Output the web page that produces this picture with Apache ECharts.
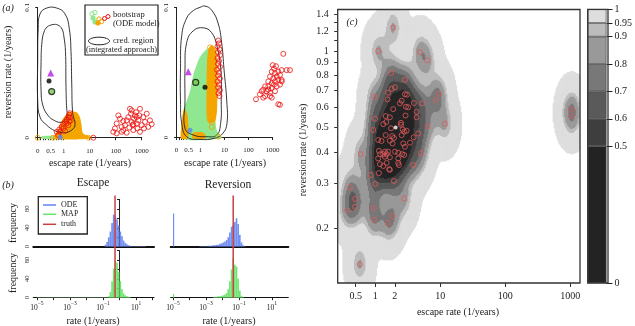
<!DOCTYPE html>
<html>
<head>
<meta charset="utf-8">
<title>escape / reversion rates</title>
<script src="https://cdn.jsdelivr.net/npm/echarts@6.0.0/dist/echarts.min.js"></script>
<style>
html, body { margin: 0; padding: 0; background: #fff; }
#chart { width: 635px; height: 326px; }
</style>
</head>
<body>
<div id="chart"></div>
<script>
// ---------- panel (a) : bootstrap fits, [escape rate, reversion rate] ----------
const contourOuterL = [[0.02,0.0836],[0.09,0.095],[0.35,0.0995],[0.73,0.0995],[1.12,0.095],[1.64,0.0836],[1.91,0.0661],[2.04,0.0412],[2.22,0.0186],[2.72,0.0096],[1.74,0.005],[0.985,0.0038],[0.665,0.0053],[0.35,0.0096],[0.09,0.0158],[0.0,0.0284],[0.0,0.0585]];
const contourInnerL = [[0.36,0.0849],[0.59,0.0868],[0.78,0.0864],[0.935,0.0834],[1.02,0.0774],[1.17,0.0661],[1.22,0.0412],[1.28,0.0246],[1.34,0.017],[1.12,0.0133],[0.86,0.0118],[0.63,0.0133],[0.40,0.017],[0.20,0.0246],[0.13,0.036],[0.13,0.0586],[0.165,0.0736],[0.24,0.081]];
const greenL = [[0.15,0.0012],[0.92,0.0012],[0.92,-0.0009],[0.15,-0.0009]];
const orangeL = [[0.59,-0.0008],[0.78,0.0058],[0.935,0.0133],[1.34,0.0186],[2.09,0.0201],[3.24,0.0194],[4.23,0.0156],[4.92,0.0088],[5.5,0.0035],[10.3,0.0008],[10.3,-0.0008]];
const orangeRingsL = [[0.0,0],[0.59,0],[8.9,0]];
const redL = [[0.73,0.0045],[0.83,0.0063],[0.92,0.0083],[0.985,0.0103],[1.12,0.0121],[1.30,0.0139],[1.51,0.0158],[1.64,0.0176],[1.74,0.0188],[1.30,0.0109],[0.985,0.0071],[0.86,0.0045],[1.86,0.0133],[1.51,0.0096],[1.12,0.0053],[0.79,0.002],[1.74,0.0155],[1.64,0.0125],[13.8,0],
  [81,0.0045],[94,0.0071],[109,0.0109],[126,0.0171],[146,0.0146],[170,0.0083],[196,0.0058],[228,0.0096],[264,0.0133],[305,0.0158],[354,0.0222],[386,0.0184],[413,0.0121],[450,0.0096],[476,0.0058],[505,0.0146],[553,0.0171],[605,0.0196],[640,0.0109],[680,0.0071],[740,0.0133],[810,0.0171],[860,0.0222],[1000,0.0096],[1150,0.0158],[1340,0.0121],[1560,0.0184],[1790,0.0083],[2080,0.0133],[2420,0.0103],[109,0.0033],[170,0.0045],[333,0.0078],[476,0.0103],[860,0.0045],[264,0.0038],[196,0.0128],[413,0.0209],[640,0.0158],[1220,0.0071]];
const markersL = { triangle: [0.5,0.0497], map: [0.435,0.0435], ring: [0.538,0.0354], blue: [0.87,0.0003] };

const contourOuterR = [[0.425,0.0918],[0.7,0.0975],[0.98,0.1],[1.55,0.101],[2.93,0.0978],[5.37,0.088],[7.6,0.073],[9.5,0.0528],[12.4,0.0281],[12.7,0.0109],[8.7,0.0034],[4.0,-0.0005],[0.98,-0.0015],[0.425,0.0006],[0.217,0.0109],[0.167,0.0281],[0.167,0.0528],[0.217,0.0783]];
const contourInnerR = [[1.31,0.0843],[2.93,0.0805],[4.73,0.0708],[7.0,0.0528],[7.3,0.0281],[6.9,0.0109],[4.73,0.0019],[1.82,0.0006],[0.7,0.0019],[0.354,0.0071],[0.354,0.0281],[0.354,0.0528],[0.425,0.073],[0.7,0.082]];
const greenR = [[0.283,-0.0007],[0.283,0.0206],[0.425,0.0281],[0.5625,0.0356],[0.7,0.0483],[0.84,0.0558],[0.98,0.0618],[1.82,0.068],[2.49,0.0685],[3.02,0.0655],[3.65,0.0431],[4.02,0.0206],[4.73,0.0056],[7.6,0.0004],[7.6,-0.0007]];
const orangeR = [[1.87,0.0131],[1.78,0.0356],[1.87,0.0581],[2.15,0.0678],[2.74,0.0708],[3.65,0.07],[4.64,0.0655],[5.11,0.0431],[4.87,0.0206],[4.02,0.0124],[2.49,0.0109]];
const orangeR2 = [[0.1875,-0.0007],[0.208,0.0094],[0.27,0.0191],[0.354,0.0221],[0.458,0.0169],[0.5,0.0071],[0.479,-0.0007]];
const orangeR3 = [[0.68,-0.0007],[0.68,0.0035],[1.2,0.004],[1.6,0.002],[1.6,-0.0007]];
const orangeRingsR = [[2.49,0.0693],[2.93,0.0118],[2.93,0.0081],[5.5,0.0006]];
const redR = [[5.52,0.0745],[5.9,0.0723],[5.11,0.07],[6.17,0.0678],[5.36,0.0655],[6.47,0.0633],[5.11,0.061],[5.9,0.0588],[5.36,0.0566],[6.47,0.0543],[4.87,0.0521],[5.9,0.0498],[5.36,0.0476],[6.47,0.0453],[5.11,0.0431],[5.9,0.0408],[5.36,0.0386],[6.47,0.0363],[5.62,0.0341],[6.17,0.0318],
  [2820,0.0643],[1020,0.0556],[1150,0.053],[1400,0.0548],[930,0.0506],[1270,0.0493],[1740,0.0506],[2410,0.0518],[3890,0.0518],[5330,0.0518],[790,0.0468],[1080,0.0455],[1490,0.0468],[2050,0.0481],[670,0.0431],[930,0.0418],[1270,0.0431],[1740,0.0443],[2410,0.0431],[490,0.0393],[670,0.0393],[930,0.0381],[1490,0.0393],[2050,0.0406],[414,0.0368],[570,0.0356],[790,0.0343],[1270,0.0356],[300,0.0331],[490,0.0318],[790,0.0318],[205,0.0294],[414,0.0306],[1740,0.0256],[2050,0.0251],[2410,0.0443],[1150,0.0406],[670,0.0368],[355,0.0356],[930,0.0306]];
const markersR = { triangle: [0.49,0.0506], map: [1.54,0.0386], ring: [0.8,0.0423], blue: [0.5625,0.0056] };

// ---------- panel (b) : histograms over log10(rate), bin width 0.1 ----------
const BIN = 0.1;
const escOdeStart = -0.9;
const escOdeCounts = [4,10,20,32,50,68,64,58,45,32,22,13,8,5,3,2,1];
const escOdeTail = [[0.8,1.6,1.2]];
const revOdeStart = -3.4;
const revOdeCounts = [1,1,1,1,1,2,2,2,3,3,4,4,6,7,9,11,14,20,30,42,46,52,60,48,25,9,3,1];
const revOdeSpike = [[-5.0,-4.93,70]];
const escMapStart = -0.7;
const escMapCounts = [3,12,35,62,77,74,55,35,18,9,5,3,2,1];
const escMapTail = [[-5.0,-0.7,0.7]];
const revMapStart = -2.6;
const revMapCounts = [1,2,2,3,3,4,5,7,10,18,35,60,84,70,66,40,15,4,1];
const revMapSpike = [[-5.0,-4.93,8]];
const escTruthLog = -0.27;
const revTruthLog = -1.35;

// ---------- panel (c) : fitted [escape, reversion] per sample ----------
const cPoints = [[1.89,1.24],[1.11,1.00],[4.87,0.99],[6.31,0.92],[1.76,0.82],[2.86,0.77],[0.97,0.66],[2.01,0.72],[1.79,0.71],[1.58,0.685],[2.86,0.676],[3.07,0.673],[1.55,0.645],[2.55,0.637],[3.94,0.624],[5.28,0.622],[9.55,0.679],[8.5,0.641],[2.40,0.622],[2.97,0.603],[3.22,0.600],[1.89,0.590],[4.33,0.576],[1.0,0.541],[1.45,0.554],[1.68,0.548],[2.93,0.557],[4.33,0.548],[1.33,0.515],[1.48,0.525],[2.49,0.521],[2.49,0.512],[6.4,0.505],[11.8,0.517],[0.93,0.488],[1.75,0.496],[2.64,0.491],[3.04,0.485],[2.79,0.481],[1.45,0.466],[1.83,0.462],[1.94,0.454],[2.55,0.466],[3.9,0.457],[4.59,0.473],[1.11,0.446],[1.25,0.442],[1.68,0.443],[1.85,0.432],[2.70,0.432],[3.42,0.435],[2.86,0.419],[0.60,0.392],[1.14,0.404],[1.41,0.401],[1.58,0.401],[2.01,0.401],[1.19,0.392],[1.33,0.392],[1.50,0.392],[2.26,0.397],[2.60,0.392],[2.79,0.389],[5.05,0.395],[1.11,0.377],[1.41,0.383],[1.68,0.381],[2.26,0.377],[1.18,0.358],[1.33,0.352],[1.50,0.362],[2.26,0.362],[3.84,0.355],[1.64,0.342],[2.32,0.355],[0.86,0.324],[1.14,0.330],[1.68,0.340],[1.0,0.299],[1.94,0.307],[0.41,0.290],[0.49,0.261],[2.79,0.262],[0.37,0.235],[0.49,0.243],[0.95,0.240],[0.955,0.216],[1.85,0.223],[1.58,0.210],[0.58,0.144],[1050,0.589],[1050,0.554]];
const cTruth = [2.06, 0.50];
const cLevels = [0, 0.5, 0.6, 0.7, 0.8, 0.9, 0.95, 1];
const cLevelColors = ['#232323', '#3e3e3e', '#5a5a5a', '#787878', '#999999', '#bcbcbc', '#dedede'];
const cXTicks = [0.5, 1, 2, 10, 100, 1000];
const cYTicks = [0.2, 0.3, 0.4, 0.5, 0.6, 0.7, 0.8, 0.9, 1, 1.1, 1.2, 1.3, 1.4];
const cYLabels = [0.2, 0.3, 0.4, 0.5, 0.6, 0.7, 0.8, 0.9, 1, 1.2, 1.4];

const FONT = "'Liberation Serif', 'DejaVu Serif', serif";
const INK = '#222';

// escape axis in (a): linear up to 1, log above
function ux(x) { return x <= 1 ? x : 1 + Math.log10(x); }
const uxLabel = { 0: '0', 0.5: '0.5', 1: '1', 2: '10', 3: '100', 4: '1000' };

// kde of panel (c) in log space, turned into highest density levels
const C_XMIN = 0.265, C_XMAX = 1410, C_YMIN = 0.1215, C_YMAX = 1.46;
const NX = 242, NY = 274, BW_X = 0.095, BW_Y = 0.052, OUTER = 0.9993;

function kdeLevels() {
  const lx0 = Math.log10(C_XMIN), lx1 = Math.log10(C_XMAX);
  const ly0 = Math.log10(C_YMIN), ly1 = Math.log10(C_YMAX);
  const pts = cPoints.map(p => [Math.log10(p[0]), Math.log10(p[1])]);
  const dens = new Float64Array(NX * NY);
  for (let j = 0; j < NY; j++) {
    const ly = ly0 + (j + 0.5) * (ly1 - ly0) / NY;
    for (let i = 0; i < NX; i++) {
      const lx = lx0 + (i + 0.5) * (lx1 - lx0) / NX;
      let s = 0;
      for (const q of pts) {
        const dx = (lx - q[0]) / BW_X, dy = (ly - q[1]) / BW_Y;
        const r = dx * dx + dy * dy;
        if (r < 50) s += Math.exp(-0.5 * r);
      }
      dens[j * NX + i] = s;
    }
  }
  const order = Array.from(dens.keys()).sort((a, b) => dens[b] - dens[a]);
  let total = 0;
  dens.forEach(v => total += v);
  let acc = 0;
  const out = [];
  for (const k of order) {
    acc += dens[k];
    const lev = acc / total;
    if (lev <= OUTER) out.push([k % NX, Math.floor(k / NX), lev]);
  }
  return out;
}

function polySeries(g, pts, style, smooth) {
  return {
    type: 'custom', xAxisIndex: g, yAxisIndex: g, silent: true, clip: false,
    data: pts.map(p => [ux(p[0]), p[1]]),
    renderItem(params, api) {
      if (params.dataIndex !== 0) return null;
      const points = pts.map(p => api.coord([ux(p[0]), p[1]]));
      return { type: 'polygon', shape: { points: points, smooth: smooth }, style: style };
    }
  };
}

function dots(g, pts, symbol, size, style) {
  return {
    type: 'scatter', xAxisIndex: g, yAxisIndex: g, clip: false, silent: true,
    symbol: symbol, symbolSize: size, itemStyle: style,
    data: pts.map(p => [ux(p[0]), p[1]])
  };
}

function ring(color) { return { color: 'rgba(0,0,0,0)', borderColor: color, borderWidth: 1 }; }

function histSeries(g, bins, color) {
  return {
    type: 'custom', xAxisIndex: g, yAxisIndex: g, silent: true,
    data: bins,
    renderItem(params, api) {
      const p0 = api.coord([api.value(0), api.value(2)]);
      const p1 = api.coord([api.value(1), 0]);
      return { type: 'rect', shape: { x: p0[0], y: p0[1], width: p1[0] - p0[0], height: p1[1] - p0[1] }, style: { fill: color } };
    }
  };
}
function binsOf(start, counts) { return counts.map((c, i) => [start + i * BIN, start + (i + 1) * BIN, c]); }

function truthLine(g, v, top) {
  return {
    type: 'line', xAxisIndex: g, yAxisIndex: g, clip: false, silent: true, symbol: 'none',
    lineStyle: { color: '#c94040', width: 1.5 }, data: [[v, 0], [v, top]], z: 5
  };
}

const txt = (size, extra) => Object.assign({ fontFamily: FONT, fontSize: size, color: INK }, extra || {});

// ---------- axes ----------
const gridsPx = [
  { left: 337.7, top: 9.5, width: 242.3, height: 273.5 },   // 0 (c) log axes
  { left: 337.7, top: 9.5, width: 242.3, height: 273.5 },   // 1 (c) kde cells
  { left: 587.7, top: 9.3, width: 20.3, height: 273.7 },    // 2 colour key
  { left: 37.7, top: 5, width: 104, height: 132.7 },        // 3 (a) left
  { left: 176.5, top: 4, width: 96, height: 133.5 },        // 4 (a) right
  { left: 33.3, top: 199.4, width: 120.7, height: 47.3 },   // 5 (b) escape ODE
  { left: 33.3, top: 250.6, width: 120.7, height: 47.1 },   // 6 (b) escape MAP
  { left: 170.7, top: 199.4, width: 117.6, height: 47.3 },  // 7 (b) reversion ODE
  { left: 170.7, top: 250.6, width: 117.6, height: 47.1 }   // 8 (b) reversion MAP
];

const line1 = { show: true, lineStyle: { color: INK, width: 1 } };
const noSplit = { show: false };

const xAxes = [
  { gridIndex: 0, type: 'log', logBase: 10, min: C_XMIN, max: C_XMAX, axisLine: { show: false }, splitLine: noSplit,
    axisTick: { show: true, customValues: cXTicks, length: 4, lineStyle: { color: '#333' } },
    axisLabel: Object.assign(txt(10), { customValues: cXTicks, margin: 8, formatter: v => String(+v.toPrecision(3)) }) },
  { gridIndex: 1, type: 'category', show: false, data: Array.from({ length: NX }, (_, i) => i) },
  { gridIndex: 2, type: 'category', show: false, data: ['key'] },
  { gridIndex: 3, type: 'value', min: 0, max: 4, offset: 6.5, axisLine: line1, splitLine: noSplit,
    axisTick: { show: true, length: 2.5, customValues: [0,0.1,0.2,0.3,0.4,0.5,0.6,0.7,0.8,0.9,1,2,3,4], lineStyle: { color: INK } },
    axisLabel: Object.assign(txt(7), { customValues: [0,0.5,1,2,3,4], margin: 3, formatter: v => uxLabel[v] }) },
  { gridIndex: 4, type: 'value', min: 0, max: 4, offset: 6.5, axisLine: line1, splitLine: noSplit,
    axisTick: { show: true, length: 2.5, customValues: [0,0.1,0.2,0.3,0.4,0.5,0.6,0.7,0.8,0.9,1,2,3,4], lineStyle: { color: INK } },
    axisLabel: Object.assign(txt(7), { customValues: [0,0.5,1,2,3,4], margin: 3, formatter: v => uxLabel[v] }) }
];
const histX = (g, min, max, labels) => ({
  gridIndex: g, type: 'value', min: min, max: max, splitLine: noSplit,
  axisLine: { show: true, lineStyle: { color: '#111', width: labels ? 1 : 2 } },
  axisTick: { show: labels, length: 2.5, customValues: [-5,-4,-3,-2,-1,0,1,2], lineStyle: { color: INK } },
  axisLabel: labels ? {
    customValues: [-5,-3,-1,1], margin: 3,
    formatter: v => '{b|10}{s|' + (v < 0 ? '\u2212' : '') + Math.abs(v) + '}',
    rich: { b: txt(7.5, { verticalAlign: 'bottom', lineHeight: 11 }), s: txt(5.5, { verticalAlign: 'top', lineHeight: 11 }) }
  } : { show: false }
});
xAxes.push(histX(5, -5.22, 2.09, false), histX(6, -5.22, 2.09, true), histX(7, -5.14, 1.99, false), histX(8, -5.14, 1.99, true));

const yAxes = [
  { gridIndex: 0, type: 'log', logBase: 10, min: C_YMIN, max: C_YMAX, axisLine: { show: false }, splitLine: noSplit,
    axisTick: { show: true, customValues: cYTicks, length: 3.5, lineStyle: { color: '#333' } },
    axisLabel: Object.assign(txt(10), { customValues: cYLabels, margin: 9, formatter: v => String(+v.toPrecision(3)) }) },
  { gridIndex: 1, type: 'category', show: false, data: Array.from({ length: NY }, (_, i) => i) },
  { gridIndex: 2, type: 'value', min: 0, max: 1, position: 'right', splitLine: noSplit, axisLine: { show: false },
    axisTick: { show: true, customValues: cLevels, length: 6, inside: false, lineStyle: { color: '#222', width: 1 } },
    axisLabel: Object.assign(txt(10), { customValues: cLevels, margin: 8, formatter: v => String(v) }) },
  { gridIndex: 3, type: 'value', min: 0, max: 0.1, offset: 4.4, axisLine: line1, splitLine: noSplit,
    axisTick: { show: true, length: 2.5, customValues: [0, 0.1], lineStyle: { color: INK } },
    axisLabel: Object.assign(txt(7), { customValues: [0, 0.1], rotate: 90, margin: 3, formatter: v => String(v) }) },
  { gridIndex: 4, type: 'value', min: 0, max: 0.1, offset: 3.8, axisLine: line1, splitLine: noSplit,
    axisTick: { show: true, length: 2.5, customValues: [0, 0.1], lineStyle: { color: INK } },
    axisLabel: Object.assign(txt(7), { customValues: [0, 0.1], rotate: 90, margin: 3, formatter: v => String(v) }) }
];
const histY = (g, show) => ({
  gridIndex: g, type: 'value', min: 0, max: 100, splitLine: noSplit, show: show,
  axisLine: line1,
  axisTick: { show: true, length: 2.5, customValues: [0, 20, 40, 60, 80, 100], lineStyle: { color: INK } },
  axisLabel: Object.assign(txt(6.5), { customValues: [0, 40, 80], rotate: 90, margin: 3 })
});
yAxes.push(histY(5, true), histY(6, true), histY(7, false), histY(8, false));

// ---------- series ----------
const series = [];

// (c) density levels + points
series.push({
  type: 'heatmap', xAxisIndex: 1, yAxisIndex: 1, data: kdeLevels(), silent: true,
  progressive: 0, itemStyle: { borderWidth: 0 }
});
series.push({
  type: 'scatter', xAxisIndex: 0, yAxisIndex: 0, data: cPoints, symbol: 'circle', symbolSize: 5, silent: true,
  itemStyle: { color: 'rgba(0,0,0,0)', borderColor: '#e0595b', borderWidth: 1 }, z: 4
});
series.push({
  type: 'scatter', xAxisIndex: 0, yAxisIndex: 0, data: [cTruth], symbol: 'circle', symbolSize: 4, silent: true,
  itemStyle: { color: '#fff' }, z: 5
});

// colour key
for (let k = 0; k < cLevelColors.length; k++) {
  series.push({
    type: 'bar', xAxisIndex: 2, yAxisIndex: 2, stack: 'key', barWidth: '100%', silent: true,
    data: [cLevels[k + 1] - cLevels[k]],
    itemStyle: { color: cLevelColors[k], borderColor: '#444', borderWidth: 0.7 }
  });
}

// (a) two panels
const aPanels = [
  [3, greenL, orangeL, [], orangeRingsL, redL, contourOuterL, contourInnerL, markersL],
  [4, greenR, orangeR, [orangeR2, orangeR3], orangeRingsR, redR, contourOuterR, contourInnerR, markersR]
];
for (const [g, green, orange, extraOrange, oRings, red, cOut, cIn, mk] of aPanels) {
  series.push(polySeries(g, green, { fill: '#8fe88f' }, 0.25));
  series.push(polySeries(g, orange, { fill: '#f5a500' }, 0.25));
  for (const o of extraOrange) series.push(polySeries(g, o, { fill: '#f5a500' }, 0.25));
  series.push(dots(g, oRings, 'circle', 5, ring('#f0a000')));
  series.push(dots(g, red, 'circle', 5, ring('#ee1111')));
  series.push(polySeries(g, cOut, { fill: 'none', stroke: INK, lineWidth: 0.9 }, 0.45));
  series.push(polySeries(g, cIn, { fill: 'none', stroke: INK, lineWidth: 0.9 }, 0.45));
  series.push(dots(g, [mk.triangle], 'triangle', 7, { color: '#b41fe6' }));
  series.push(dots(g, [mk.map], 'circle', 5, { color: '#000' }));
  series.push(dots(g, [mk.ring], 'circle', 6, { color: '#7cc850', borderColor: '#111', borderWidth: 1.2 }));
  series.push(dots(g, [mk.blue], 'circle', 5, { color: '#5b86ea' }));
}

// (b) histograms
const ODE_BLUE = 'rgba(98,130,240,0.9)', ODE_LIGHT = 'rgba(150,175,245,0.6)';
const MAP_GREEN = 'rgba(104,226,104,0.95)', MAP_LIGHT = 'rgba(150,235,150,0.6)';
series.push(histSeries(5, escOdeTail, ODE_LIGHT), histSeries(5, binsOf(escOdeStart, escOdeCounts), ODE_BLUE));
series.push(histSeries(6, escMapTail, MAP_LIGHT), histSeries(6, binsOf(escMapStart, escMapCounts), MAP_GREEN));
series.push(histSeries(7, revOdeSpike, ODE_BLUE), histSeries(7, binsOf(revOdeStart, revOdeCounts), ODE_BLUE));
series.push(histSeries(8, revMapSpike, MAP_GREEN), histSeries(8, binsOf(revMapStart, revMapCounts), MAP_GREEN));
series.push(truthLine(5, escTruthLog, 108), truthLine(6, escTruthLog, 110));
series.push(truthLine(7, revTruthLog, 108), truthLine(8, revTruthLog, 110));

// ---------- text, legends, frames ----------
const T = (x, y, text, size, opt) => Object.assign({
  type: 'text', x: x, y: y, z: 60,
  style: Object.assign({ text: text, font: size + 'px ' + FONT, fill: INK, align: 'center', verticalAlign: 'middle' }, (opt && opt.style) || {})
}, opt && opt.rotation ? { rotation: opt.rotation } : {});
const VERT = { rotation: Math.PI / 2 };
const graphic = [
  T(8, 8, '(a)', 10, { style: { font: 'italic 10px ' + FONT } }),
  T(8, 72, 'reversion rate (1/years)', 10, VERT),
  T(90, 163, 'escape rate (1/years)', 10),
  T(225, 163, 'escape rate (1/years)', 10),
  // legend (a)
  { type: 'rect', z: 50, shape: { x: 85, y: 5, width: 73, height: 50 }, style: { fill: '#fff', stroke: INK, lineWidth: 1.2 } },
  { type: 'circle', z: 55, shape: { cx: 92, cy: 14, r: 2.2 }, style: { fill: 'none', stroke: '#8fe88f', lineWidth: 1 } },
  { type: 'circle', z: 55, shape: { cx: 95, cy: 12.5, r: 2.2 }, style: { fill: 'none', stroke: '#8fe88f', lineWidth: 1 } },
  { type: 'circle', z: 55, shape: { cx: 93, cy: 18, r: 2.2 }, style: { fill: '#8fe88f', stroke: '#8fe88f', lineWidth: 1 } },
  { type: 'circle', z: 55, shape: { cx: 95, cy: 22, r: 2.2 }, style: { fill: '#8fe88f', stroke: '#8fe88f', lineWidth: 1 } },
  { type: 'circle', z: 55, shape: { cx: 99, cy: 19, r: 2.2 }, style: { fill: 'none', stroke: '#f5a500', lineWidth: 1 } },
  { type: 'circle', z: 55, shape: { cx: 98, cy: 23, r: 2.2 }, style: { fill: '#f5a500', stroke: '#f5a500', lineWidth: 1 } },
  { type: 'circle', z: 55, shape: { cx: 101.5, cy: 21.5, r: 2.2 }, style: { fill: 'none', stroke: '#f5a500', lineWidth: 1 } },
  { type: 'circle', z: 55, shape: { cx: 104.5, cy: 18.5, r: 2 }, style: { fill: 'none', stroke: '#ee1111', lineWidth: 1 } },
  { type: 'circle', z: 55, shape: { cx: 108, cy: 16.5, r: 2 }, style: { fill: 'none', stroke: '#ee1111', lineWidth: 1 } },
  { type: 'ellipse', z: 55, shape: { cx: 99, cy: 41, rx: 10.5, ry: 3.8 }, style: { fill: 'none', stroke: INK, lineWidth: 1 } },
  T(113, 15, 'bootstrap', 8.5, { style: { align: 'left' } }),
  T(113, 24, '(ODE model)', 8.5, { style: { align: 'left' } }),
  T(113, 41, 'cred. region', 8.5, { style: { align: 'left' } }),
  T(121.5, 49.5, '(integrated approach)', 8.3),
  // (b)
  T(8, 185, '(b)', 10, { style: { font: 'italic 10px ' + FONT } }),
  T(93, 183, 'Escape', 11.5),
  T(228, 185, 'Reversion', 11.5),
  T(13, 223, 'frequency', 10, VERT),
  T(13, 273, 'frequency', 10, VERT),
  T(93, 321, 'rate (1/years)', 10),
  T(229, 321, 'rate (1/years)', 10),
  { type: 'rect', z: 50, shape: { x: 38.3, y: 196.7, width: 49, height: 37.3 }, style: { fill: '#fff', stroke: INK, lineWidth: 1.3 } },
  { type: 'line', z: 55, shape: { x1: 43, y1: 205, x2: 56, y2: 205 }, style: { stroke: '#6282f0', lineWidth: 1.5 } },
  { type: 'line', z: 55, shape: { x1: 43, y1: 214.3, x2: 56, y2: 214.3 }, style: { stroke: '#68e268', lineWidth: 1.5 } },
  { type: 'line', z: 55, shape: { x1: 43, y1: 224.3, x2: 56, y2: 224.3 }, style: { stroke: '#c94040', lineWidth: 1.5 } },
  T(61, 205, 'ODE', 8, { style: { align: 'left' } }),
  T(61, 214.3, 'MAP', 8, { style: { align: 'left' } }),
  T(61, 224.3, 'truth', 8, { style: { align: 'left' } }),
  // (c)
  { type: 'rect', z: 40, shape: { x: 337.7, y: 9.5, width: 242.3, height: 273.5 }, style: { fill: 'none', stroke: '#333', lineWidth: 1.3 } },
  { type: 'rect', z: 40, shape: { x: 587.7, y: 9.3, width: 20.3, height: 273.7 }, style: { fill: 'none', stroke: '#333', lineWidth: 1.3 } },
  T(352, 22, '(c)', 10, { style: { font: 'italic 10px ' + FONT } }),
  T(303, 150, 'reversion rate (1/years)', 10, VERT),
  T(458, 312, 'escape rate (1/years)', 10)
];

const chart = echarts.init(document.getElementById('chart'), null, { renderer: 'canvas' });
chart.setOption({
  animation: false,
  backgroundColor: '#fff',
  grid: gridsPx.map(g => Object.assign({ containLabel: false, show: false }, g)),
  xAxis: xAxes,
  yAxis: yAxes,
  visualMap: {
    type: 'piecewise', show: false, seriesIndex: 0, dimension: 2,
    pieces: cLevelColors.map((c, k) => ({ gt: k === 0 ? -1 : cLevels[k], lte: cLevels[k + 1], color: c }))
  },
  series: series,
  graphic: graphic
});
</script>
</body>
</html>
